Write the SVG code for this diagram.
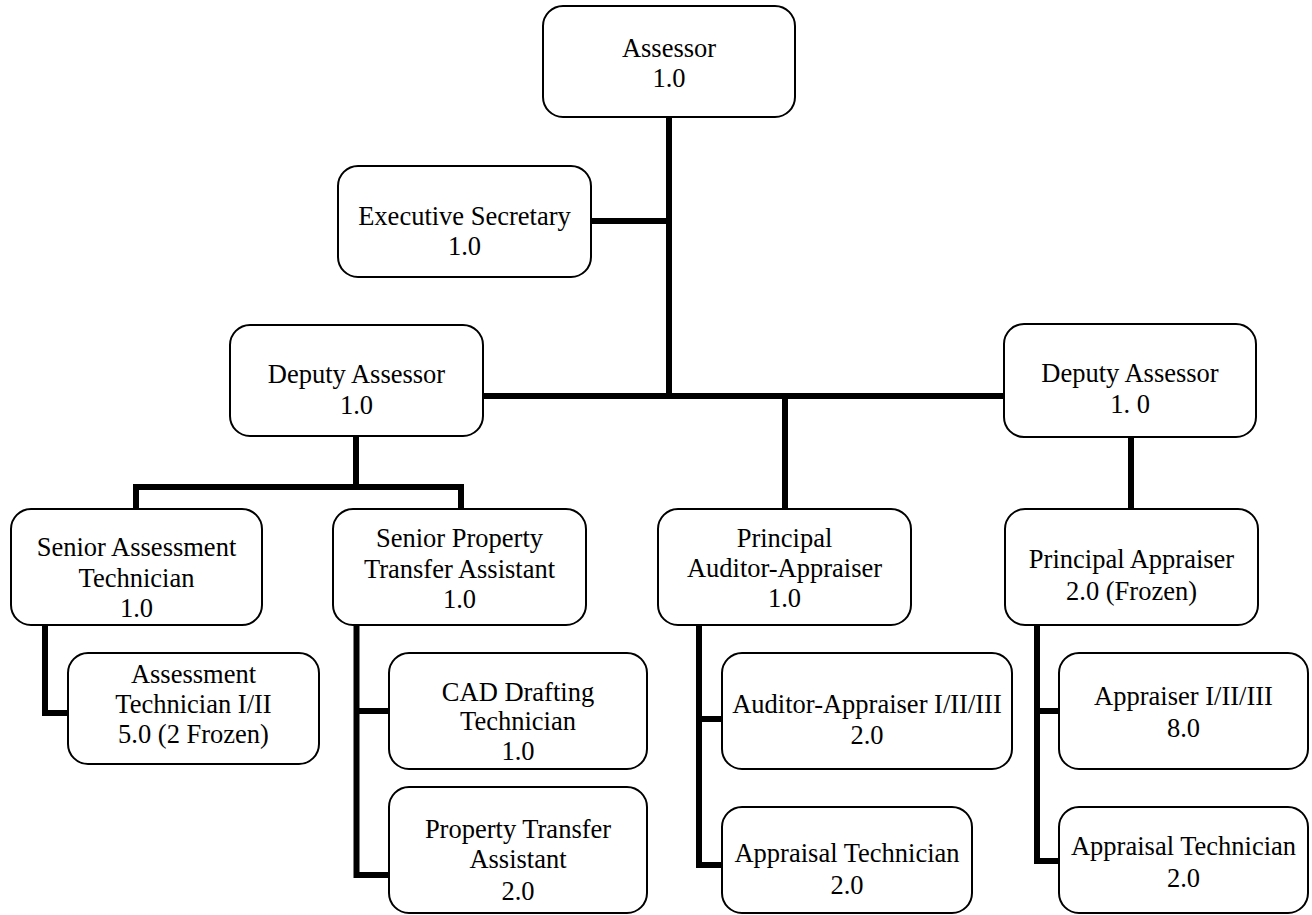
<svg xmlns="http://www.w3.org/2000/svg" width="1312" height="915" viewBox="0 0 1312 915">
<style>
.box{fill:#fff;stroke:#000;stroke-width:2}
.t{font-family:"Liberation Serif","Times New Roman",serif;font-size:26.5px;fill:#000;text-anchor:middle}
.c{fill:none;stroke:#000;stroke-width:6;stroke-linecap:butt;stroke-linejoin:miter}
</style>
<rect width="1312" height="915" fill="#fff"/>
<g id="connectors">
<path class="c" d="M669 117V396M591 221H669M483 396H1004M785 396V509M1131 437V509"/>
<path class="c" d="M356 436V487M136 509V487H461V509"/>
<path class="c" d="M45 625V713H68"/>
<path class="c" d="M356.5 625V875H389M356.5 711H389"/>
<path class="c" d="M699 625V865H722M699 719H722"/>
<path class="c" d="M1037 625V861H1059M1037 711H1059"/>
</g>
<g id="assessor"><rect class="box" x="543" y="6" width="252" height="111" rx="20"/><text class="t" x="669" y="57">Assessor</text><text class="t" x="669" y="87">1.0</text></g>
<g id="exec-secretary"><rect class="box" x="338" y="166" width="253" height="111" rx="20"/><text class="t" x="464.5" y="225">Executive Secretary</text><text class="t" x="464.5" y="255">1.0</text></g>
<g id="deputy-left"><rect class="box" x="230" y="325" width="253" height="111" rx="20"/><text class="t" x="356.5" y="383">Deputy Assessor</text><text class="t" x="356.5" y="414">1.0</text></g>
<g id="deputy-right"><rect class="box" x="1004" y="324" width="252" height="113" rx="20"/><text class="t" x="1130" y="382">Deputy Assessor</text><text class="t" x="1130" y="413">1. 0</text></g>
<g id="senior-assessment-tech"><rect class="box" x="11" y="509" width="251" height="116" rx="20"/><text class="t" x="136.5" y="556">Senior Assessment</text><text class="t" x="136.5" y="587">Technician</text><text class="t" x="136.5" y="617">1.0</text></g>
<g id="senior-pta"><rect class="box" x="333" y="509" width="253" height="116" rx="20"/><text class="t" x="459.5" y="547">Senior Property</text><text class="t" x="459.5" y="578">Transfer Assistant</text><text class="t" x="459.5" y="608">1.0</text></g>
<g id="principal-auditor"><rect class="box" x="658" y="509" width="253" height="116" rx="20"/><text class="t" x="784.5" y="547">Principal</text><text class="t" x="784.5" y="577">Auditor-Appraiser</text><text class="t" x="784.5" y="607">1.0</text></g>
<g id="principal-appraiser"><rect class="box" x="1005" y="509" width="253" height="116" rx="20"/><text class="t" x="1131.5" y="568">Principal Appraiser</text><text class="t" x="1131.5" y="600">2.0 (Frozen)</text></g>
<g id="assessment-tech"><rect class="box" x="68" y="653" width="251" height="111" rx="20"/><text class="t" x="193.5" y="683">Assessment</text><text class="t" x="193.5" y="713">Technician I/II</text><text class="t" x="193.5" y="743">5.0 (2 Frozen)</text></g>
<g id="cad-drafting"><rect class="box" x="389" y="653" width="258" height="116" rx="20"/><text class="t" x="518" y="701">CAD Drafting</text><text class="t" x="518" y="730">Technician</text><text class="t" x="518" y="760">1.0</text></g>
<g id="pta"><rect class="box" x="389" y="787" width="258" height="126" rx="20"/><text class="t" x="518" y="838">Property Transfer</text><text class="t" x="518" y="868">Assistant</text><text class="t" x="518" y="900">2.0</text></g>
<g id="auditor-appraiser"><rect class="box" x="722" y="653" width="290" height="116" rx="20"/><text class="t" x="867" y="713">Auditor-Appraiser I/II/III</text><text class="t" x="867" y="744">2.0</text></g>
<g id="appraisal-tech-mid"><rect class="box" x="722" y="807" width="250" height="106" rx="20"/><text class="t" x="847" y="862">Appraisal Technician</text><text class="t" x="847" y="894">2.0</text></g>
<g id="appraiser"><rect class="box" x="1059" y="653" width="249" height="116" rx="20"/><text class="t" x="1183.5" y="705">Appraiser I/II/III</text><text class="t" x="1183.5" y="737">8.0</text></g>
<g id="appraisal-tech-right"><rect class="box" x="1059" y="807" width="249" height="106" rx="20"/><text class="t" x="1183.5" y="855">Appraisal Technician</text><text class="t" x="1183.5" y="887">2.0</text></g>
</svg>
